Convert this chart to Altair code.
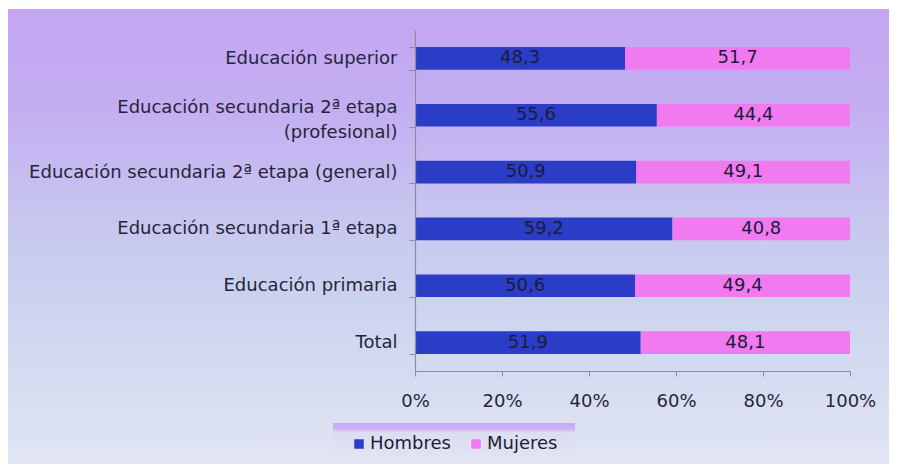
import altair as alt
import pandas as pd

categories = [
    "Educación superior",
    "Educación secundaria 2ª etapa (profesional)",
    "Educación secundaria 2ª etapa (general)",
    "Educación secundaria 1ª etapa",
    "Educación primaria",
    "Total",
]
hombres = [48.3, 55.6, 50.9, 59.2, 50.6, 51.9]
mujeres = [51.7, 44.4, 49.1, 40.8, 49.4, 48.1]
series = ["Hombres", "Mujeres"]
colors = ["#2b3dc6", "#f27af0"]
x_ticks = [0, 0.2, 0.4, 0.6, 0.8, 1.0]

rows = []
for c, h, m in zip(categories, hombres, mujeres):
    rows.append({"cat": c, "serie": "Hombres", "value": h, "order": 0})
    rows.append({"cat": c, "serie": "Mujeres", "value": m, "order": 1})
df = pd.DataFrame(rows)

FONT = "DejaVu Sans"
W, H = 435, 341
PL, PT, PR, PB = 407, 22, 39, 93

bg = alt.Chart(pd.DataFrame({"z": [0]})).mark_rect(
    color=alt.LinearGradient(
        gradient="linear", x1=0, x2=0, y1=0, y2=1,
        stops=[
            alt.GradientStop(color="#c4a5f3", offset=0),
            alt.GradientStop(color="#c3aef1", offset=0.22),
            alt.GradientStop(color="#c7c5ef", offset=0.45),
            alt.GradientStop(color="#ccd4ef", offset=0.66),
            alt.GradientStop(color="#e1e5f3", offset=1),
        ],
    )
).encode(
    x=alt.value(-PL), x2=alt.value(W + PR),
    y=alt.value(-PT + 1), y2=alt.value(H + PB),
)

legbox = alt.Chart(pd.DataFrame({"z": [0]})).mark_rect(
    color=alt.LinearGradient(
        gradient="linear", x1=0, x2=0, y1=0, y2=1,
        stops=[
            alt.GradientStop(color="#c7a9f2", offset=0),
            alt.GradientStop(color="#ccb4f2", offset=0.17),
            alt.GradientStop(color="#dcdcf3", offset=0.25),
            alt.GradientStop(color="#e2e4f3", offset=1),
        ],
    )
).encode(
    x=alt.value(-82), x2=alt.value(160),
    y=alt.value(393), y2=alt.value(430),
)

base = alt.Chart(df).transform_stack(
    stack="value", groupby=["cat"], as_=["v0", "v1"], offset="normalize",
    sort=[alt.SortField("order", order="ascending")],
).transform_calculate(
    mid="(datum.v0 + datum.v1) / 2",
    lbl="replace(format(datum.value, '.1f'), '.', ',')",
)

ycat = alt.Y(
    "cat:N", sort=categories, title=None,
    scale=alt.Scale(paddingInner=0.6, paddingOuter=0.3),
    axis=alt.Axis(
        labelExpr="datum.label == 'Educación secundaria 2ª etapa (profesional)' ? ['Educación secundaria 2ª etapa', '(profesional)'] : datum.label",
        labelLineHeight=25, tickBand="extent", tickSize=6, labelPadding=12,
        labelLimit=500, zindex=2,
        labelOffset={"condition": {"test": "indexof(datum.label, 'profesional') >= 0", "value": -8}, "value": 0},
    ),
)

bars = base.mark_bar().encode(
    y=ycat,
    x=alt.X(
        "v0:Q", title=None, scale=alt.Scale(domain=[0, 1]),
        axis=alt.Axis(values=x_ticks, format="%", tickSize=5, labelPadding=16,
                      grid=False, labelFlush=False, zindex=2),
    ),
    x2="v1:Q",
    color=alt.Color(
        "serie:N", scale=alt.Scale(domain=series, range=colors),
        legend=alt.Legend(
            title=None, orient="none", legendX=-65, legendY=405, direction="horizontal",
            symbolType="square", symbolSize=90, symbolStrokeWidth=0, symbolOpacity=1,
            labelFontSize=18, labelFont=FONT, labelColor="#1e1e30", labelOffset=2,
            columnPadding=16, padding=0,
        ),
    ),
    order=alt.Order("order:Q"),
)

texts = base.mark_text(fontSize=18, font=FONT, color="#1c1c3a", baseline="middle").encode(
    y=alt.Y("cat:N", sort=categories),
    x=alt.X("mid:Q"),
    text="lbl:N",
)

chart = alt.layer(bg, legbox, bars, texts).properties(
    width=W, height=H,
    autosize=alt.AutoSizeParams(type="none"),
    padding={"left": PL, "top": PT, "right": PR, "bottom": PB},
    background="#ffffff",
).configure_view(stroke=None).configure_axis(
    labelFont=FONT, labelFontSize=18, labelColor="#26263a",
    domainColor="#8c8c9c", tickColor="#8c8c9c", domainWidth=1.2,
)

chart.save("out.html", embed_options={"renderer": "svg", "actions": False})
